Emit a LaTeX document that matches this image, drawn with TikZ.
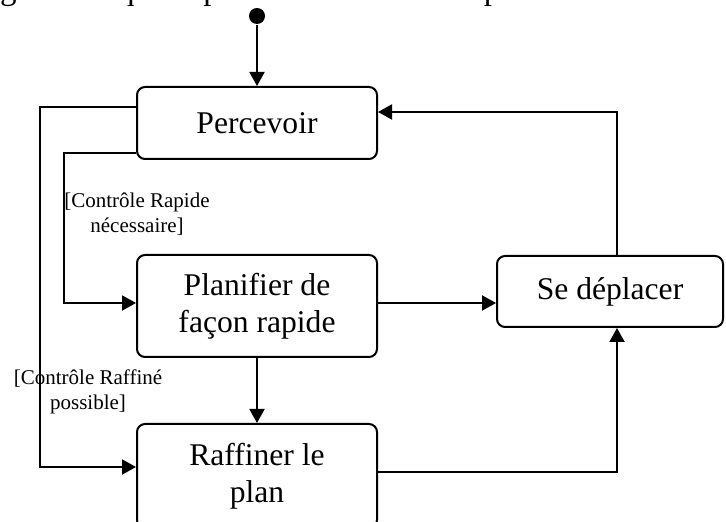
\documentclass[tikz,border=0pt]{standalone}
\usepackage{fontspec}
\setmainfont{Liberation Serif}
\usetikzlibrary{arrows.meta}

\begin{document}
\begin{tikzpicture}[
  x=0.5pt, y=-0.5pt,
  line width=1pt,
  statebox/.style={draw, rounded corners=4pt, align=center,
    font=\fontsize{15.8}{18.5}\selectfont, inner sep=0pt},
  guard/.style={align=center, font=\fontsize{10.5}{12.2}\selectfont, inner sep=0pt},
  arr/.style={-{Triangle[length=7pt,width=7.5pt]}},
]
  \useasboundingbox (0,0) rectangle (726,522);
  \clip (0,0) rectangle (726,522);

  % tail of the running text above the figure
  \node[anchor=base west, inner sep=0pt, font=\fontsize{16.5}{19}\selectfont]
    (prose) at (-1,-0.5) {gements qu'on pu savoir dans le temps.};

  % initial state
  \node[circle, fill, inner sep=0pt, minimum size=8pt] (start) at (257,16) {};

  % activity states
  \node[statebox, minimum width=120pt, minimum height=36pt] (perc) at (257,123) {Percevoir};
  \node[statebox, minimum width=120pt, minimum height=51pt] (plan) at (257,306) {Planifier de\\façon rapide};
  \node[statebox, minimum width=120pt, minimum height=52pt] (raff) at (257,476) {Raffiner le\\plan};
  \node[statebox, minimum width=113pt, minimum height=35.5pt] (move) at (610,291.5) {Se déplacer};

  % guard labels
  \node[guard] (gfast) at (137,214) {[Contrôle Rapide\\nécessaire]};
  \node[guard] (gfine) at (88,392) {[Contrôle Raffiné\\possible]};

  % transitions
  \draw[arr] (start) -- (perc.north);
  \draw[arr] ([yshift=8pt]perc.west) -- ++(-96,0) |- ([yshift=4.5pt]raff.west);
  \draw[arr] ([yshift=-15pt]perc.west) -- ++(-72,0) |- ([yshift=1.5pt]plan.west);
  \draw[arr] ([yshift=1.5pt]plan.east) -- ([yshift=1.5pt]plan.east -| move.west);
  \draw[arr] (plan.south) -- (raff.north);
  \draw[arr] ([yshift=2pt]raff.east) -| ([xshift=3.5pt]move.south);
  \draw[arr] ([xshift=3.5pt]move.north) |- ([yshift=5.5pt]perc.east);
\end{tikzpicture}
\end{document}
